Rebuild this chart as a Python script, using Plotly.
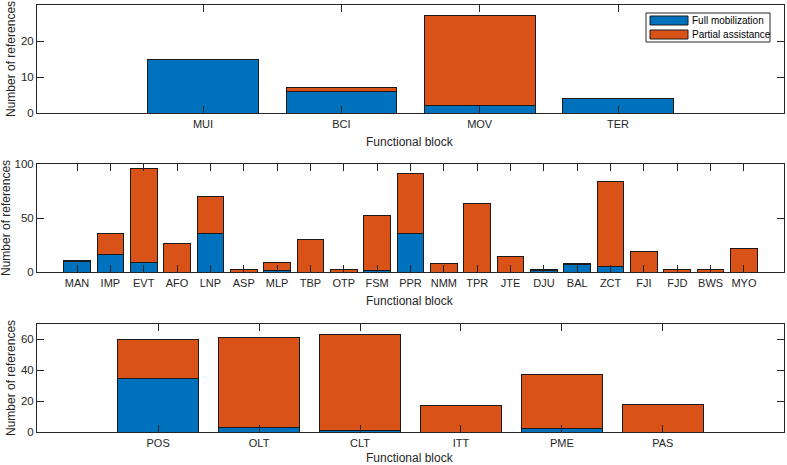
import plotly.graph_objects as go

# ---- data ----
cats1 = ["MUI", "BCI", "MOV", "TER"]
full1 = [15, 6, 2, 4]
part1 = [0, 1, 25, 0]

cats2 = ["MAN", "IMP", "EVT", "AFO", "LNP", "ASP", "MLP", "TBP", "OTP", "FSM", "PPR",
         "NMM", "TPR", "JTE", "DJU", "BAL", "ZCT", "FJI", "FJD", "BWS", "MYO"]
full2 = [10, 16, 9, 0, 36, 0, 1, 0, 0, 1, 36, 0, 0, 0, 1, 7, 5, 0, 0, 0, 0]
part2 = [1, 20, 87, 26, 34, 2, 8, 30, 2, 51, 55, 8, 63, 14, 1, 1, 79, 19, 2, 2, 22]

cats3 = ["POS", "OLT", "CLT", "ITT", "PME", "PAS"]
full3 = [35, 3, 1, 0, 2, 0]
part3 = [25, 58, 62, 17, 35, 18]

yticks1 = [0, 10, 20, 30]
yticks2 = [0, 50, 100]
yticks3 = [0, 20, 40, 60]
ymax = [30, 100, 70]

series_names = ["Full mobilization", "Partial assistance"]
colors = ["#0072BD", "#D95319"]
xlabel = "Functional block"
ylabel = "Number of references"

# ---- figure ----
W, H = 787, 465
L, R, T, B = 37, 3, 5, 33
PW, PH = W - L - R, H - T - B


def py2paper(py):
    return (H - B - py) / PH


def px2paper(px):
    return (px - L) / PW


fig = go.Figure()
font = "Liberation Sans, Arial, sans-serif"
axcol = "#262626"

panels = [(cats1, full1, part1, yticks1, ymax[0], (113, 5), 11, 29),
          (cats2, full2, part2, yticks2, ymax[1], (272, 164), 6, 29),
          (cats3, full3, part3, yticks3, ymax[2], (432, 324), 11, 26)]

annotations = []
for i, (cats, full, part, yt, ym, (pb, ptop), ytx, xto) in enumerate(panels):
    n = i + 1
    xa = "x" if n == 1 else f"x{n}"
    ya = "y" if n == 1 else f"y{n}"
    xs = list(range(1, len(cats) + 1))
    for vals, name, col in zip([full, part], series_names, colors):
        fig.add_trace(go.Bar(x=xs, y=vals, name=name, width=0.8,
                             marker=dict(color=col, line=dict(color="#1a1a1a", width=1)),
                             xaxis=xa, yaxis=ya, showlegend=False, hoverinfo="skip"))
    dom = [py2paper(pb), py2paper(ptop)]
    xkey = "xaxis" if n == 1 else f"xaxis{n}"
    ykey = "yaxis" if n == 1 else f"yaxis{n}"
    fig.layout[xkey] = dict(
        domain=[0, 1], anchor=ya, range=[-0.2, len(cats) + 1.2],
        tickvals=xs, ticktext=cats, ticks="inside", ticklen=7, tickcolor=axcol,
        showline=True, linecolor=axcol, linewidth=1, mirror="ticks",
        showgrid=False, zeroline=False, automargin=False, ticklabelstandoff=1,
        tickfont=dict(family=font, size=11, color=axcol),
    )
    fig.layout[ykey] = dict(
        domain=dom, anchor=xa, range=[0, ym], tickvals=yt,
        ticks="inside", ticklen=7, tickcolor=axcol,
        showline=True, linecolor=axcol, linewidth=1, mirror="ticks",
        showgrid=False, zeroline=False, automargin=False,
        tickfont=dict(family=font, size=11.5, color=axcol),
    )
    # axis titles
    annotations.append(dict(xref="paper", yref="paper", x=px2paper(410), y=py2paper(pb + xto),
                            xanchor="center", yanchor="middle", text=xlabel, showarrow=False,
                            font=dict(family=font, size=12, color=axcol)))
    annotations.append(dict(xref="paper", yref="paper", x=px2paper(ytx), y=py2paper((pb + ptop) / 2),
                            xanchor="center", yanchor="middle", text=ylabel, showarrow=False,
                            textangle=-90, font=dict(family=font, size=12, color=axcol)))

# ---- manual legend (MATLAB style) ----
shapes = [dict(type="rect", xref="paper", yref="paper",
               x0=px2paper(646), x1=px2paper(770), y0=py2paper(42), y1=py2paper(13),
               line=dict(color=axcol, width=1), fillcolor="white", layer="above")]
for k, (name, col) in enumerate(zip(series_names, colors)):
    y0, y1 = 16 + 14 * k, 25 + 14 * k
    shapes.append(dict(type="rect", xref="paper", yref="paper",
                       x0=px2paper(650), x1=px2paper(688), y0=py2paper(y1), y1=py2paper(y0),
                       line=dict(color="#1a1a1a", width=1), fillcolor=col, layer="above"))
    annotations.append(dict(xref="paper", yref="paper", x=px2paper(690), y=py2paper((y0 + y1) / 2),
                            xanchor="left", yanchor="middle", text=name, showarrow=False,
                            font=dict(family=font, size=10, color="#000000")))

fig.update_layout(
    width=W, height=H, margin=dict(l=L, r=R, t=T, b=B, autoexpand=False),
    barmode="stack", bargap=0, plot_bgcolor="white", paper_bgcolor="white",
    shapes=shapes, annotations=annotations, showlegend=False, hovermode=False,
)

fig.write_html("out.html", config={"displayModeBar": False, "staticPlot": True},
               post_script="document.body.style.margin='0';document.body.style.overflow='hidden';")
